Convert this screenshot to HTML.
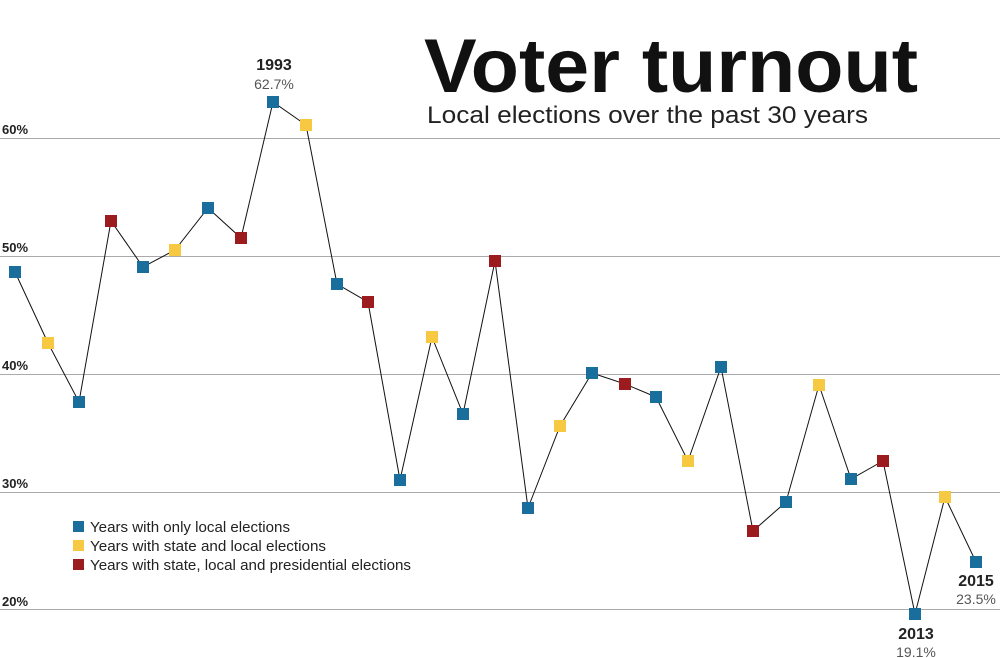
<!DOCTYPE html>
<html><head><meta charset="utf-8"><style>
body{margin:0;background:#fff;}
svg{display:block;font-family:"Liberation Sans",sans-serif;}
</style></head><body>
<svg width="1000" height="658" viewBox="0 0 1000 658">
<g stroke="#aaa" stroke-width="1">
<line x1="0" y1="138.5" x2="1000" y2="138.5"/>
<line x1="0" y1="256.5" x2="1000" y2="256.5"/>
<line x1="0" y1="374.5" x2="1000" y2="374.5"/>
<line x1="0" y1="492.5" x2="1000" y2="492.5"/>
<line x1="0" y1="609.5" x2="1000" y2="609.5"/>
</g>
<g font-size="13" font-weight="bold" fill="#222">
<text x="2" y="134">60%</text>
<text x="2" y="252">50%</text>
<text x="2" y="370">40%</text>
<text x="2" y="488">30%</text>
<text x="2" y="606">20%</text>
</g>
<text x="424" y="92" font-size="76" font-weight="bold" fill="#111" textLength="494" lengthAdjust="spacingAndGlyphs">Voter turnout</text>
<text x="427" y="123" font-size="24" fill="#222" textLength="441" lengthAdjust="spacingAndGlyphs">Local elections over the past 30 years</text>
<text x="274" y="70" font-size="16" font-weight="bold" text-anchor="middle" fill="#222">1993</text>
<text x="274" y="89" font-size="14" text-anchor="middle" fill="#555">62.7%</text>
<text x="916" y="639" font-size="16" font-weight="bold" text-anchor="middle" fill="#222">2013</text>
<text x="916" y="657" font-size="14" text-anchor="middle" fill="#555">19.1%</text>
<text x="976" y="586" font-size="16" font-weight="bold" text-anchor="middle" fill="#222">2015</text>
<text x="976" y="604" font-size="14" text-anchor="middle" fill="#555">23.5%</text>
<polyline fill="none" stroke="#111" stroke-width="1" points="15,272 48,343 79,402 111,221 143,267 175,250 208,208 241,238 273,102 306,125 337,284 368,302 400,480 432,337 463,414 495,261 528,508 560,426 592,373 625,384 656,397 688,461 721,367 753,531 786,502 819,385 851,479 883,461 915,614 945,497 976,562"/>
<g>
<rect x="9" y="266" width="12" height="12" fill="#1a6e9c"/>
<rect x="42" y="337" width="12" height="12" fill="#f7c842"/>
<rect x="73" y="396" width="12" height="12" fill="#1a6e9c"/>
<rect x="105" y="215" width="12" height="12" fill="#9b1b1f"/>
<rect x="137" y="261" width="12" height="12" fill="#1a6e9c"/>
<rect x="169" y="244" width="12" height="12" fill="#f7c842"/>
<rect x="202" y="202" width="12" height="12" fill="#1a6e9c"/>
<rect x="235" y="232" width="12" height="12" fill="#9b1b1f"/>
<rect x="267" y="96" width="12" height="12" fill="#1a6e9c"/>
<rect x="300" y="119" width="12" height="12" fill="#f7c842"/>
<rect x="331" y="278" width="12" height="12" fill="#1a6e9c"/>
<rect x="362" y="296" width="12" height="12" fill="#9b1b1f"/>
<rect x="394" y="474" width="12" height="12" fill="#1a6e9c"/>
<rect x="426" y="331" width="12" height="12" fill="#f7c842"/>
<rect x="457" y="408" width="12" height="12" fill="#1a6e9c"/>
<rect x="489" y="255" width="12" height="12" fill="#9b1b1f"/>
<rect x="522" y="502" width="12" height="12" fill="#1a6e9c"/>
<rect x="554" y="420" width="12" height="12" fill="#f7c842"/>
<rect x="586" y="367" width="12" height="12" fill="#1a6e9c"/>
<rect x="619" y="378" width="12" height="12" fill="#9b1b1f"/>
<rect x="650" y="391" width="12" height="12" fill="#1a6e9c"/>
<rect x="682" y="455" width="12" height="12" fill="#f7c842"/>
<rect x="715" y="361" width="12" height="12" fill="#1a6e9c"/>
<rect x="747" y="525" width="12" height="12" fill="#9b1b1f"/>
<rect x="780" y="496" width="12" height="12" fill="#1a6e9c"/>
<rect x="813" y="379" width="12" height="12" fill="#f7c842"/>
<rect x="845" y="473" width="12" height="12" fill="#1a6e9c"/>
<rect x="877" y="455" width="12" height="12" fill="#9b1b1f"/>
<rect x="909" y="608" width="12" height="12" fill="#1a6e9c"/>
<rect x="939" y="491" width="12" height="12" fill="#f7c842"/>
<rect x="970" y="556" width="12" height="12" fill="#1a6e9c"/>
</g>
<g font-size="14.5" fill="#222">
<rect x="73" y="521" width="11" height="11" fill="#1a6e9c"/>
<text x="90" y="532" textLength="200" lengthAdjust="spacingAndGlyphs">Years with only local elections</text>
<rect x="73" y="540" width="11" height="11" fill="#f7c842"/>
<text x="90" y="551" textLength="236" lengthAdjust="spacingAndGlyphs">Years with state and local elections</text>
<rect x="73" y="559" width="11" height="11" fill="#9b1b1f"/>
<text x="90" y="570" textLength="321" lengthAdjust="spacingAndGlyphs">Years with state, local and presidential elections</text>
</g>
</svg>
</body></html>
